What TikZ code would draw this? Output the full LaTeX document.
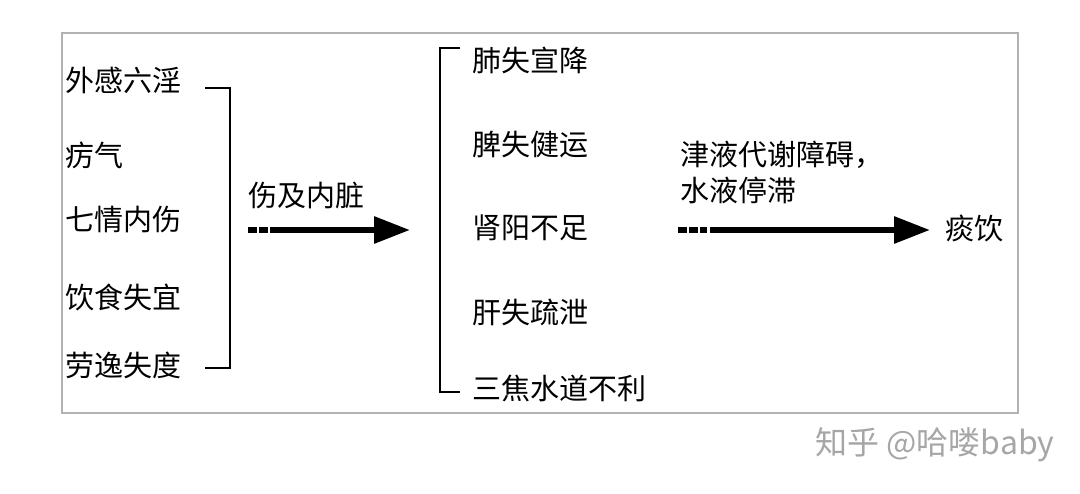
\documentclass[tikz,border=0pt]{standalone}
\usepackage{fontspec}
\setmainfont{Noto Sans CJK SC}
\newfontfamily\cjk{Noto Sans CJK SC}
\usetikzlibrary{arrows.meta}
\tikzset{
  item/.style={anchor=west,inner sep=0pt,font=\cjk\fontsize{14.5}{17}\selectfont},
  bracket/.style={draw,line width=0.8pt},
  dashpart/.style={line width=3pt,dash pattern=on 4.5pt off 1pt},
  bigarrow/.style={line width=3pt,-{Triangle[length=18pt,width=13pt]}}
}
\begin{document}
\begin{tikzpicture}[x=0.5pt,y=-0.5pt]
\useasboundingbox (0,0) rectangle (1080,493);
\draw[gray!60,line width=1pt] (62,33) rectangle (1018,413);

% causes
\node[item] (c1) at (65,80) {外感六淫};
\node[item] (c2) at (65,155) {疠气};
\node[item] (c3) at (65,220) {七情内伤};
\node[item] (c4) at (65,297) {饮食失宜};
\node[item] (c5) at (65,365) {劳逸失度};
\draw[bracket] (205,88) -- (230,88) -- (230,368) -- (205,368);

% first arrow
\node[item] (l1) at (248,195) {伤及内脏};
\coordinate (a1) at (248,230);
\coordinate (a1e) at (268,230);
\coordinate (a1s) at (270,230);
\coordinate (a2) at (410,230);
\draw[dashpart] (a1) -- (a1e);
\draw[bigarrow] (a1s) -- (a2);

% organs
\draw[bracket] (460,48) -- (440,48) -- (440,392) -- (460,392);
\node[item] (o1) at (472,60) {肺失宣降};
\node[item] (o2) at (472,145) {脾失健运};
\node[item] (o3) at (472,228) {肾阳不足};
\node[item] (o4) at (472,312) {肝失疏泄};
\node[item] (o5) at (472,388) {三焦水道不利};

% second arrow
\node[item] (l2) at (680,155) {津液代谢障碍，};
\node[item] (l3) at (680,190) {水液停滞};
\coordinate (b1) at (678,230);
\coordinate (b1e) at (707,230);
\coordinate (b1s) at (710,230);
\coordinate (b2) at (930,230);
\draw[dashpart] (b1) -- (b1e);
\draw[bigarrow] (b1s) -- (b2);
\node[item] (r) at (945,228) {痰饮};

\node[item,text=gray!70,font=\cjk\fontsize{16}{18}\selectfont] (wm) at (815,445) {知乎 @哈喽baby};
\end{tikzpicture}
\end{document}
